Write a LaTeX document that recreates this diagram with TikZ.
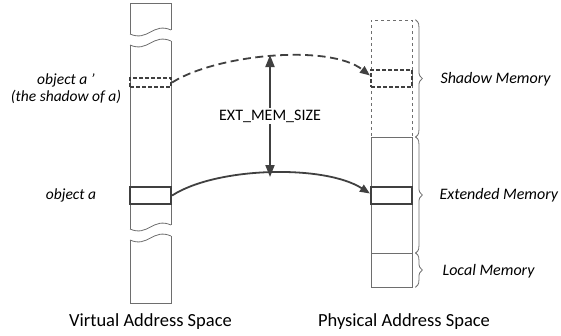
\documentclass[tikz,border=0pt]{standalone}
\usepackage{fontspec}
\setmainfont{Carlito}
\usepackage{tikz}
\usetikzlibrary{arrows.meta,decorations.pathreplacing,positioning}
\definecolor{memthin}{RGB}{110,110,110}
\definecolor{memdark}{RGB}{64,64,64}

\begin{document}
\begin{tikzpicture}[x=1pt,y=-1pt,
    colline/.style={draw=memthin,line width=.8pt},
    objbox/.style={draw=memdark,line width=2.2pt,minimum width=41pt,minimum height=17pt,inner sep=0pt},
    shadowbox/.style={objbox,dashed,dash pattern=on 4pt off 2pt},
    memregion/.style={colline,minimum width=41pt,inner sep=0pt},
    memlabel/.style={anchor=west,font=\fontsize{16}{18}\selectfont\itshape},
    vlabel/.style={font=\fontsize{15.5}{17}\selectfont\itshape},
    caption/.style={font=\fontsize{18.5}{20}\selectfont},
    mapline/.style={draw=memdark,line width=1.8pt,-{Triangle[length=10pt,width=8pt]}},
    brace/.style={draw=memthin,line width=.8pt,decorate,decoration={brace,amplitude=7pt}}]
  \useasboundingbox (0,0) rectangle (561,335);

  % virtual address space, with two breaks
  \draw[colline] (130,34) -- (130,3) -- (171,3) -- (171,30);
  \draw[colline] (130,45) -- (130,229) (171,41) -- (171,225);
  \draw[colline] (130,240) -- (130,303) -- (171,303) -- (171,236);
  \foreach \y in {34,45,229,240}
    \draw[colline] (130,\y) .. controls +(18,8) and +(-18,-8) .. (171,\y-4);
  \node[shadowbox,minimum height=9pt] (vsh) at (150.5,82.5) {};
  \node[objbox] (vobj) at (150.5,195.5) {};

  % physical address space
  \node[memregion,dashed,minimum height=117pt] (shmem) at (391.5,78.5) {};
  \node[memregion,minimum height=116pt] (extmem) at (391.5,195) {};
  \node[memregion,minimum height=34pt] (locmem) at (391.5,270) {};
  \node[shadowbox] (psh) at (391.5,78.5) {};
  \node[objbox] (pobj) at (391.5,195.5) {};

  \draw[brace] ([xshift=3pt]shmem.north east) -- ([xshift=3pt]shmem.south east);
  \draw[brace] ([xshift=3pt]extmem.north east) -- ([xshift=3pt]extmem.south east);
  \draw[brace] ([xshift=3pt]locmem.north east) -- ([xshift=3pt]locmem.south east);
  \node[memlabel] (shlab) at (437,79) {Shadow Memory};
  \node[memlabel] (extlab) at (436,195) {Extended Memory};
  \node[memlabel] (loclab) at (439,271) {Local Memory};

  % mappings
  \draw[mapline,dash pattern=on 8pt off 4.5pt] (vsh.east) .. controls +(44,-28) and +(-41,-32) .. ([yshift=3pt]psh.west);
  \draw[mapline] (vobj.east) .. controls +(45,-29) and +(-45,-29) .. ([yshift=2pt]pobj.west);

  \coordinate (sztop) at (270,55);
  \coordinate (szbot) at (270,177);
  \draw[draw=memdark,line width=1.8pt,{Triangle[length=12pt,width=9pt]}-{Triangle[length=12pt,width=9pt]}] (sztop) -- (szbot)
    node[midway,fill=white,inner sep=2pt,font=\fontsize{16}{18}\selectfont] (szlab) {EXT\_MEM\_SIZE};

  \node[vlabel] (vshlab) at (66,80) {object a ’};
  \node[vlabel] (vshlab2) at (66,97) {(the shadow of a)};
  \node[vlabel] (vobjlab) at (71,195) {object a};

  \node[caption] (vcap) at (150.5,322) {Virtual Address Space};
  \node[caption] (pcap) at (404,322) {Physical Address Space};
\end{tikzpicture}
\end{document}
